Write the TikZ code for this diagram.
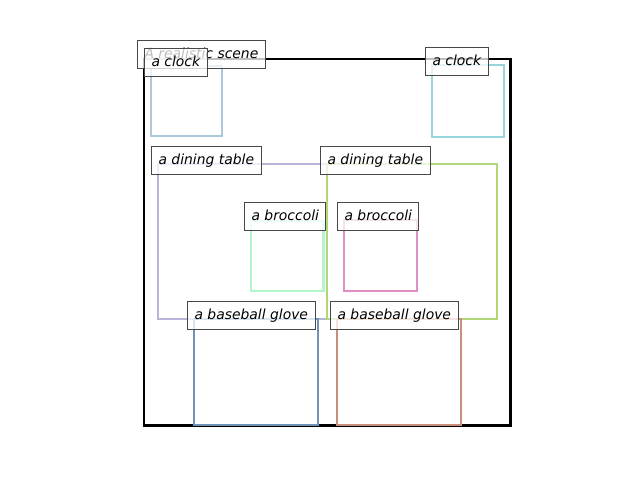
\documentclass[tikz,border=0pt]{standalone}
\usepackage{fontspec}
\setmainfont{DejaVu Sans}
\usetikzlibrary{positioning}
\usetikzlibrary{calc}

\definecolor{clockA}{RGB}{172,201,220}
\definecolor{clockB}{RGB}{152,212,220}
\definecolor{tableA}{RGB}{184,180,216}
\definecolor{tableB}{RGB}{176,216,120}
\definecolor{brocA}{RGB}{176,245,204}
\definecolor{brocB}{RGB}{224,144,196}
\definecolor{gloveA}{RGB}{112,148,184}
\definecolor{gloveB}{RGB}{200,144,124}

\begin{document}
\begin{tikzpicture}[x=1pt, y=-1pt,
    objbox/.style={line width=2.5pt},
    lbl/.style={draw=black!72, line width=1pt, fill=white, fill opacity=0.75, text opacity=1,
        inner xsep=7pt, inner ysep=0pt, minimum height=28pt,
        text height=11.6pt, text depth=2.4pt,
        font=\fontsize{13.9}{16}\selectfont\itshape, anchor=west}]

\useasboundingbox (0,0) rectangle (640,480);

\coordinate (scene) at (144, 59);

% scene frame
\path[draw, line width=2.5pt] (scene) rectangle (510.5, 425.5);

% boxes
\path[draw, objbox, clockA] (151, 66) rectangle (222, 136);
\path[draw, objbox, clockB] (432, 65) rectangle (504, 137);
\path[draw, objbox, tableA] (158, 164) rectangle (327, 319);
\path[draw, objbox, tableB] (327, 164) rectangle (497, 319);
\path[draw, objbox, brocA] (251, 221) rectangle (323.5, 291);
\path[draw, objbox, brocB] (344, 220) rectangle (417, 291);
\path[draw, objbox, gloveA] (194, 319) rectangle (318, 425);
\path[draw, objbox, gloveB] (337, 319) rectangle (461, 425);

% labels
\node[lbl] (title) at ($(scene)+(-7,-5)$) {A realistic scene};
\node[lbl] (clock1) at (144, 62) {a clock};
\node[lbl] (clock2) at (425, 61) {a clock};
\node[lbl] (table1) at (151, 160) {a dining table};
\node[lbl] (table2) at (320, 160) {a dining table};
\node[lbl] (broc1) at (244, 216) {a broccoli};
\node[lbl] (broc2) at (337, 216) {a broccoli};
\node[lbl] (glove1) at (187, 315) {a baseball glove};
\node[lbl] (glove2) at (330, 315) {a baseball glove};

\end{tikzpicture}
\end{document}
